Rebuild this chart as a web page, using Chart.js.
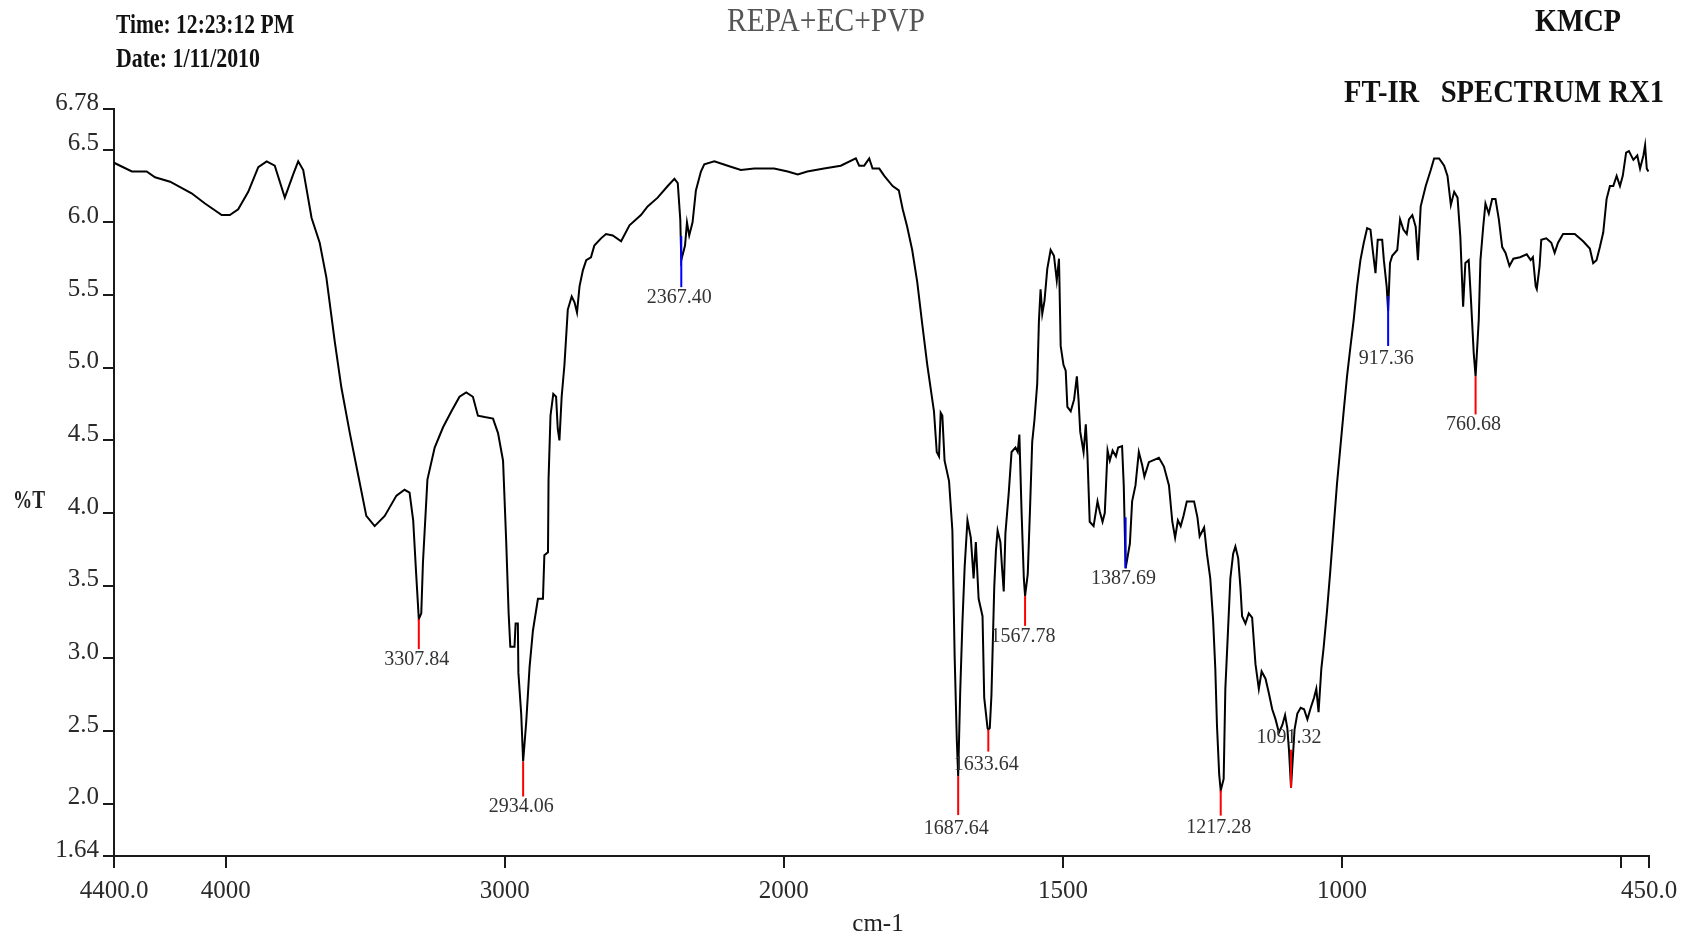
<!DOCTYPE html>
<html>
<head>
<meta charset="utf-8">
<title>REPA+EC+PVP FT-IR</title>
<script src="https://cdn.jsdelivr.net/npm/chart.js@4/dist/chart.umd.min.js"></script>
<style>
  html, body { margin: 0; padding: 0; background: #ffffff; overflow: hidden; }
  canvas { display: block; }
</style>
</head>
<body>
<canvas id="spectrum" width="1697" height="938"></canvas>
<script>
// Wavenumber (cm-1), descending, and transmittance (%T) of the sample
const wavenumbers = [
  4400, 4336, 4283, 4253, 4199, 4122, 4074, 4014, 3985, 3955, 3919, 3883, 3853, 3824, 3788, 3758, 3740, 3722,
  3692, 3663, 3639, 3609, 3585, 3555, 3525, 3496, 3466, 3430, 3388, 3359, 3341, 3328, 3317, 3307.84, 3299, 3293,
  3277, 3251, 3221, 3191, 3162, 3138, 3114, 3096, 3072, 3042, 3024, 3006, 2995, 2986, 2980, 2965, 2961, 2953,
  2951, 2941, 2934.06, 2923, 2911, 2899, 2881, 2863, 2858, 2845, 2843, 2836, 2826, 2816, 2810, 2804, 2796, 2786,
  2780, 2774, 2760, 2750, 2741, 2732, 2720, 2708, 2691, 2679, 2655, 2637, 2613, 2583, 2553, 2512, 2488, 2452,
  2416, 2392, 2380, 2371, 2367.40, 2354, 2347, 2339, 2327, 2315, 2297, 2285, 2249, 2201, 2154, 2106, 2035, 1993,
  1975, 1958, 1928, 1898, 1871, 1865, 1856, 1847, 1841, 1829, 1820, 1805, 1794, 1787, 1779, 1770, 1761, 1752,
  1743, 1737, 1731, 1726, 1722, 1719, 1716, 1712, 1704, 1698, 1694, 1690, 1687.64, 1684, 1680, 1676, 1671, 1665,
  1660, 1656, 1651, 1644, 1641, 1635, 1633.64, 1631, 1628, 1623, 1620, 1617, 1612, 1609, 1606, 1603, 1597, 1592,
  1585, 1581, 1578, 1574, 1570, 1567.78, 1563, 1559, 1555, 1551, 1546, 1543, 1540, 1537, 1533, 1528, 1522, 1516,
  1511, 1507, 1504, 1499, 1495, 1492, 1486, 1480, 1475, 1472, 1469, 1463, 1459, 1456, 1452, 1445, 1438, 1434,
  1429, 1425, 1420, 1416, 1411, 1405, 1401, 1394, 1391, 1389.5, 1387.69, 1384, 1380, 1376, 1370, 1364, 1358, 1354,
  1346, 1328, 1319, 1310, 1304, 1299, 1294, 1289, 1284, 1278, 1265, 1259, 1255, 1247, 1242, 1236, 1231, 1227,
  1224, 1220, 1217.28, 1212, 1209, 1204, 1200, 1195, 1191, 1186, 1182, 1179, 1173, 1167, 1161, 1155, 1149, 1144,
  1137, 1131, 1125, 1119, 1113, 1107, 1102, 1098, 1095, 1091.32, 1089, 1085, 1080, 1074, 1068, 1062, 1056, 1050,
  1046, 1042, 1037, 1033, 1027, 1021, 1015, 1009, 1003, 997, 991, 985, 979, 973, 967, 961, 955, 949,
  945, 940, 936, 928, 925, 920, 917.36, 914, 910, 901, 896, 890, 884, 880, 874, 868, 864, 859,
  850, 841, 835, 826, 817, 811, 805, 799, 793, 788, 783, 779, 773, 769, 764, 760.68, 755, 752,
  747, 743, 737, 731, 725, 719, 713, 707, 700, 693, 681, 669, 662, 658, 653, 651, 646, 643,
  634, 625, 619, 613, 604, 583, 568, 556, 550, 544, 538, 532, 526, 520, 514, 508, 502, 497,
  491, 486, 478, 471, 466, 460, 457, 454, 451
];
const transmittance = [
  6.41, 6.35, 6.35, 6.31, 6.28, 6.20, 6.13, 6.05, 6.05, 6.09, 6.21, 6.38, 6.42, 6.39, 6.17, 6.33, 6.42, 6.36,
  6.03, 5.86, 5.62, 5.18, 4.86, 4.55, 4.26, 3.98, 3.91, 3.98, 4.12, 4.16, 4.14, 3.95, 3.57, 3.27, 3.31, 3.66,
  4.23, 4.45, 4.59, 4.70, 4.80, 4.83, 4.80, 4.67, 4.66, 4.65, 4.55, 4.36, 3.82, 3.31, 3.08, 3.08, 3.24, 3.24,
  2.90, 2.62, 2.29, 2.56, 2.94, 3.19, 3.41, 3.41, 3.71, 3.73, 4.23, 4.67, 4.82, 4.80, 4.58, 4.50, 4.80, 5.02,
  5.21, 5.40, 5.49, 5.45, 5.38, 5.56, 5.67, 5.74, 5.76, 5.84, 5.89, 5.92, 5.91, 5.87, 5.98, 6.05, 6.11, 6.17,
  6.25, 6.30, 6.27, 6.02, 5.74, 5.84, 6.00, 5.91, 6.00, 6.22, 6.35, 6.40, 6.42, 6.39, 6.36, 6.37, 6.37, 6.35,
  6.33, 6.35, 6.37, 6.39, 6.44, 6.39, 6.39, 6.44, 6.37, 6.37, 6.32, 6.25, 6.22, 6.09, 5.97, 5.81, 5.59, 5.30,
  5.02, 4.86, 4.70, 4.42, 4.39, 4.69, 4.67, 4.36, 4.22, 3.88, 3.02, 2.43, 2.19, 2.77, 3.25, 3.63, 3.95, 3.83,
  3.55, 3.80, 3.41, 3.29, 2.73, 2.52, 2.51, 2.52, 2.75, 3.49, 3.74, 3.88, 3.80, 3.62, 3.46, 3.86, 4.14, 4.42,
  4.45, 4.42, 4.54, 4.00, 3.55, 3.43, 3.58, 4.02, 4.49, 4.64, 4.89, 5.32, 5.54, 5.37, 5.46, 5.68, 5.81, 5.77,
  5.60, 5.75, 5.15, 5.02, 4.98, 4.73, 4.70, 4.78, 4.94, 4.78, 4.56, 4.42, 4.61, 4.39, 3.94, 3.91, 4.08, 4.01,
  3.94, 4.00, 4.43, 4.36, 4.43, 4.39, 4.45, 4.46, 4.19, 3.94, 3.62, 3.70, 3.79, 4.08, 4.19, 4.42, 4.33, 4.25,
  4.35, 4.38, 4.32, 4.19, 3.94, 3.83, 3.95, 3.91, 3.98, 4.08, 4.08, 3.97, 3.84, 3.90, 3.72, 3.55, 3.27, 2.93,
  2.54, 2.20, 2.09, 2.17, 2.79, 3.21, 3.55, 3.72, 3.77, 3.69, 3.49, 3.29, 3.24, 3.31, 3.28, 2.96, 2.79, 2.91,
  2.86, 2.76, 2.65, 2.58, 2.49, 2.54, 2.61, 2.52, 2.37, 2.11, 2.26, 2.51, 2.62, 2.66, 2.65, 2.58, 2.66, 2.73,
  2.79, 2.63, 2.93, 3.07, 3.32, 3.60, 3.90, 4.20, 4.45, 4.70, 4.94, 5.14, 5.33, 5.56, 5.74, 5.86, 5.96, 5.95,
  5.81, 5.65, 5.88, 5.88, 5.74, 5.56, 5.39, 5.72, 5.77, 5.81, 6.02, 5.95, 5.92, 6.02, 6.05, 5.97, 5.74, 6.11,
  6.25, 6.36, 6.44, 6.44, 6.39, 6.32, 6.12, 6.21, 6.17, 5.90, 5.42, 5.72, 5.74, 5.47, 5.10, 4.94, 5.33, 5.74,
  5.97, 6.13, 6.06, 6.16, 6.16, 6.02, 5.83, 5.79, 5.70, 5.75, 5.76, 5.78, 5.74, 5.76, 5.56, 5.54, 5.70, 5.88,
  5.89, 5.86, 5.79, 5.86, 5.92, 5.92, 5.87, 5.82, 5.72, 5.74, 5.83, 5.93, 6.16, 6.25, 6.25, 6.32, 6.25, 6.32,
  6.48, 6.49, 6.43, 6.46, 6.37, 6.46, 6.53, 6.37, 6.35
];

// Picked peaks (cm-1)
const peakWavenumbers = [3307.84, 2934.06, 2367.40, 1687.64, 1633.64, 1567.78, 1387.69, 1217.28, 1091.32, 917.36, 760.68];
const peakLabels = peakWavenumbers.map(w => w.toFixed(2));

// Axis ticks
const xTickValues = [4400, 4000, 3000, 2000, 1500, 1000, 500, 450];
const xTickLabels = ['4400.0', '4000', '3000', '2000', '1500', '1000', '', '450.0'];
const yTickValues = [1.64, 2.0, 2.5, 3.0, 3.5, 4.0, 4.5, 5.0, 5.5, 6.0, 6.5, 6.78];
const yTickLabels = ['1.64', '2.0', '2.5', '3.0', '3.5', '4.0', '4.5', '5.0', '5.5', '6.0', '6.5', '6.78'];

// Marker line / label placement for each peak, in pixels relative to the peak minimum
const peakMarkerStyle = [
  { color: '#ff0000', from: 0,   to: 30, text: 41 },
  { color: '#ff0000', from: 0,   to: 35, text: 45 },
  { color: '#0000ff', from: -24, to: 27, text: 38 },
  { color: '#ff0000', from: 0,   to: 39, text: 53 },
  { color: '#ff0000', from: 0,   to: 22, text: 35 },
  { color: '#ff0000', from: 0,   to: 30, text: 41 },
  { color: '#0000ff', from: -51, to: 0,  text: 11 },
  { color: '#ff0000', from: 0,   to: 25, text: 37 },
  { color: '#ff0000', from: -38, to: 0,  text: -50 },
  { color: '#0000ff', from: -15, to: 35, text: 48 },
  { color: '#ff0000', from: 0,   to: 38, text: 48 }
];

// Below the break the wavenumber axis is expanded by this factor
const AXIS_BREAK = 2000;
const EXPANSION = 2;

// Linear scale with a 2x expanded region below 2000 cm-1
class SplitLinearScale extends Chart.LinearScale {
  static id = 'splitLinear';
  static defaults = {};
  _units(v) {
    return v <= AXIS_BREAK
      ? EXPANSION * (v - this.min)
      : EXPANSION * (AXIS_BREAK - this.min) + (v - AXIS_BREAK);
  }
  getPixelForValue(value) {
    return this.getPixelForDecimal(this._units(value) / this._units(this.max));
  }
  getValueForPixel(pixel) {
    const u = this.getDecimalForPixel(pixel) * this._units(this.max);
    const low = EXPANSION * (AXIS_BREAK - this.min);
    return u <= low ? this.min + u / EXPANSION : AXIS_BREAK + (u - low);
  }
}
Chart.register(SplitLinearScale);

const SERIF = '"Liberation Serif", "Times New Roman", serif';

// Text squeezed horizontally to a given width
function drawFitted(ctx, text, x, y, font, color, align, width) {
  ctx.save();
  ctx.font = font;
  ctx.fillStyle = color;
  ctx.textBaseline = 'alphabetic';
  const w = ctx.measureText(text).width;
  const s = width ? width / w : 1;
  let left = x;
  if (align === 'center') left = x - (w * s) / 2;
  else if (align === 'right') left = x - w * s;
  ctx.translate(left, y);
  ctx.scale(s, 1);
  ctx.textAlign = 'left';
  ctx.fillText(text, 0, 0);
  ctx.restore();
}

const headerPlugin = {
  id: 'headerText',
  afterDraw(chart) {
    const ctx = chart.ctx;
    drawFitted(ctx, 'Time: 12:23:12 PM', 116, 32.5, 'bold 28px ' + SERIF, '#111', 'left', 178);
    drawFitted(ctx, 'Date: 1/11/2010', 116, 66.5, 'bold 28px ' + SERIF, '#111', 'left', 144);
    drawFitted(ctx, 'REPA+EC+PVP', 826, 30.5, '33px ' + SERIF, '#555', 'center', 198);
    drawFitted(ctx, 'KMCP', 1578, 31, 'bold 31px ' + SERIF, '#111', 'center', 86);
    drawFitted(ctx, 'FT-IR   SPECTRUM RX1', 1344, 102, 'bold 32px ' + SERIF, '#111', 'left', 320);
    drawFitted(ctx, '%T', 29, 508, 'bold 26px ' + SERIF, '#222', 'center', 32);
    drawFitted(ctx, 'cm-1', 878, 931, '25px ' + SERIF, '#222', 'center', null);
  }
};

const peakPlugin = {
  id: 'peakMarkers',
  afterDatasetsDraw(chart) {
    const ctx = chart.ctx;
    const xs = chart.scales.x, ys = chart.scales.y;
    ctx.save();
    peakWavenumbers.forEach((w, i) => {
      const st = peakMarkerStyle[i];
      const px = xs.getPixelForValue(w);
      const py = ys.getPixelForValue(transmittance[wavenumbers.indexOf(w)]);
      ctx.strokeStyle = st.color;
      ctx.lineWidth = 2;
      ctx.beginPath();
      ctx.moveTo(px, py + st.from);
      ctx.lineTo(px, py + st.to);
      ctx.stroke();
      ctx.font = '20px ' + SERIF;
      ctx.fillStyle = '#333';
      ctx.textAlign = 'center';
      ctx.textBaseline = 'middle';
      ctx.fillText(peakLabels[i], px - 2, py + st.text);
    });
    ctx.restore();
  }
};

const axisColor = '#1a1a1a';
const tickFont = { family: SERIF, size: 25 };

new Chart(document.getElementById('spectrum'), {
  type: 'line',
  data: {
    datasets: [{
      label: '%T',
      data: wavenumbers.map((w, i) => ({ x: w, y: transmittance[i] })),
      borderColor: '#000000',
      borderWidth: 2,
      pointRadius: 0,
      tension: 0,
      fill: false
    }]
  },
  options: {
    responsive: false,
    animation: false,
    devicePixelRatio: 1,
    layout: { padding: { left: 0, right: 48, top: 109, bottom: 0 } },
    plugins: { legend: { display: false }, tooltip: { enabled: false }, title: { display: false } },
    scales: {
      x: {
        type: 'splitLinear',
        min: 450,
        max: 4400,
        reverse: true,
        afterBuildTicks: axis => { axis.ticks = xTickValues.map(v => ({ value: v })); },
        afterFit: axis => { axis.height = 82; },
        border: { display: true, color: axisColor, width: 2 },
        grid: { display: true, drawOnChartArea: false, drawTicks: true, tickLength: 12, color: axisColor, lineWidth: 2 },
        ticks: {
          autoSkip: false, maxRotation: 0, minRotation: 0, padding: 8,
          color: '#2a2a2a', font: tickFont,
          callback: (v, i) => xTickLabels[i]
        }
      },
      y: {
        type: 'linear',
        min: 1.64,
        max: 6.78,
        afterBuildTicks: axis => { axis.ticks = yTickValues.map(v => ({ value: v })); },
        afterFit: axis => { axis.width = 114; },
        border: { display: true, color: axisColor, width: 2 },
        grid: { display: true, drawOnChartArea: false, drawTicks: true, tickLength: 11, color: axisColor, lineWidth: 2 },
        ticks: {
          autoSkip: false, padding: 4, labelOffset: -6,
          color: '#2a2a2a', font: tickFont,
          callback: (v, i) => yTickLabels[i]
        }
      }
    }
  },
  plugins: [peakPlugin, headerPlugin]
});
</script>
</body>
</html>
